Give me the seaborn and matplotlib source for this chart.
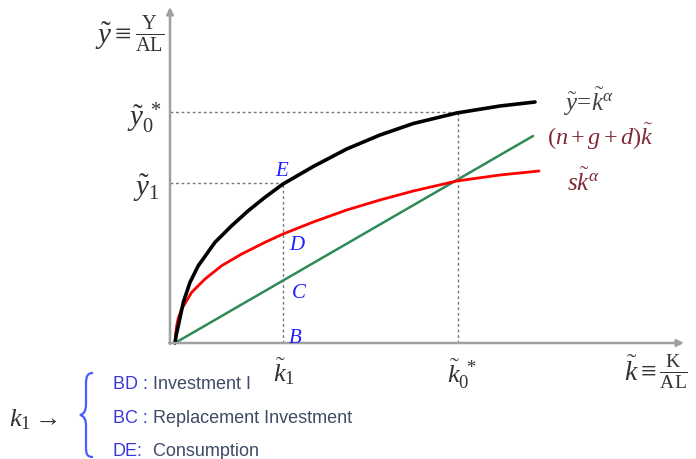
import numpy as np
import pandas as pd
import matplotlib
matplotlib.use("Agg")
import matplotlib.pyplot as plt
import seaborn as sns
from matplotlib.path import Path
from matplotlib.patches import PathPatch

# ---- data (k and y in picture units, origin at the curves' start)
k_output = [0, 1.2, 3.3, 8.3, 15, 23.3, 40, 56.7, 73.3, 90, 108, 138.3, 171.7, 205,
            238.3, 281.7, 325, 360]
y_output = [0, 8, 17.3, 40.7, 60.7, 77.3, 100.7, 117.3, 132.3, 145.7, 159, 176.5, 194,
            208, 219.5, 230, 237, 241]

k_saving = [0, 0.6, 1.7, 3.3, 6.7, 16.7, 30, 46.7, 66.7, 90, 108, 138.3, 171.7, 205,
            238.3, 281.7, 325, 364]
y_saving = [0, 8, 17.3, 25, 34, 50.7, 64, 77.3, 89, 100.7, 109, 121, 133, 143,
            152, 162, 168, 172]

k_break = [0, 358]
y_break = [0, 207]

k1_val = 108       # k~_1
k0_val = 283       # k~_0*
y1_val = 160       # y~_1
y0_val = 231       # y~_0*

bottom_keys = ["BD :", "BC :", "DE:"]
bottom_texts = ["Investment I", "Replacement Investment", " Consumption"]

# ---- style
sns.set_theme(style="white")
plt.rcParams["font.family"] = ["Liberation Serif", "DejaVu Serif"]
plt.rcParams["mathtext.fontset"] = "custom"
plt.rcParams["mathtext.rm"] = "Liberation Serif"
plt.rcParams["mathtext.it"] = "Liberation Serif:italic"
plt.rcParams["mathtext.bf"] = "Liberation Serif:bold"

OX, OY = 175, 344
def P(px, py):
    return (px - OX, OY - py)

fig = plt.figure(figsize=(6.96, 4.6), dpi=100)
ax = fig.add_axes([0, 0, 1, 1])
ax.set_xlim(-OX, 696 - OX)
ax.set_ylim(OY - 460, OY)
ax.axis("off")

# axes with arrows
axis_col = "#a0a0a0"
ax.annotate("", xy=P(170, 8), xytext=P(170, 345),
            arrowprops=dict(arrowstyle="-|>", color=axis_col, lw=1.8, mutation_scale=10,
                            shrinkA=0, shrinkB=0))
ax.annotate("", xy=P(684, 344), xytext=P(169, 344),
            arrowprops=dict(arrowstyle="-|>", color=axis_col, lw=1.8, mutation_scale=10,
                            shrinkA=0, shrinkB=0))

# dotted guides
dot = dict(color="#777777", lw=1.0, linestyle=(0, (2, 2)))
ax.plot([-5, k0_val], [y0_val, y0_val], **dot)
ax.plot([-5, k1_val], [y1_val, y1_val], **dot)
ax.plot([k1_val, k1_val], [0, y1_val], **dot)
ax.plot([k0_val, k0_val], [0, y0_val], **dot)

# curves
sns.lineplot(x=k_break, y=y_break, ax=ax, color="#2e8b57", lw=1.8, sort=False)
sns.lineplot(x=k_saving, y=y_saving, ax=ax, color="#ff0000", lw=2.0, sort=False)
sns.lineplot(x=k_output, y=y_output, ax=ax, color="#000000", lw=2.6, sort=False)

# axis labels
dark = "#333333"
ax.text(*P(130, 34), r"$\tilde{y}\equiv\frac{\mathrm{Y}}{\mathrm{AL}}$", fontsize=21,
        ha="center", va="center", color=dark)
ax.text(*P(162, 118), r"$\tilde{y}_{0}^{\ *}$", fontsize=21, ha="right", va="center", color=dark)
ax.text(*P(160, 188), r"$\tilde{y}_{1}$", fontsize=21, ha="right", va="center", color=dark)
ax.text(*P(284, 372), r"$\tilde{k}_{1}$", fontsize=19, ha="center", va="center", color=dark)
ax.text(*P(462, 374), r"$\tilde{k}_{0}^{\ *}$", fontsize=19, ha="center", va="center", color=dark)
ax.text(*P(656, 372), r"$\tilde{k}\equiv\frac{\mathrm{K}}{\mathrm{AL}}$", fontsize=20,
        ha="center", va="center", color=dark)

# curve labels
ax.text(*P(589, 102), r"$\tilde{y}\!=\!\tilde{k}^{\alpha}$", fontsize=18, ha="center", va="center",
        color="#444444")
ax.text(*P(601, 137), r"$(n+g+d)\tilde{k}$", fontsize=17.5, ha="center", va="center", color="#7f2a35")
ax.text(*P(583, 182), r"$s\tilde{k}^{\alpha}$", fontsize=18, ha="center", va="center", color="#7f2a35")

# points
blue = "#1f1fff"
for lab, px, py in [("E", 282, 172), ("D", 297, 246), ("C", 299, 293), ("B", 295, 339)]:
    ax.text(*P(px, py), lab, fontsize=15, style="italic", ha="center", va="center", color=blue)

# bottom annotation
ax.text(*P(9, 420), r"$k_{1}\rightarrow$", fontsize=19, ha="left", va="center", color=dark)
verts = [P(93, 374), P(87, 374), P(86, 378), P(86, 385), P(86, 405),
         P(86, 412), P(84, 415), P(80, 416), P(84, 417), P(86, 420), P(86, 427),
         P(86, 448), P(86, 455), P(87, 458), P(93, 458)]
codes = [Path.MOVETO, Path.CURVE4, Path.CURVE4, Path.CURVE4, Path.LINETO,
         Path.CURVE4, Path.CURVE4, Path.CURVE4, Path.CURVE4, Path.CURVE4, Path.CURVE4,
         Path.LINETO, Path.CURVE4, Path.CURVE4, Path.CURVE4]
ax.add_patch(PathPatch(Path(verts, codes), fill=False, edgecolor="#4a5cff", lw=1.6))

sans = ["Liberation Sans", "DejaVu Sans"]
for key, txt, py in zip(bottom_keys, bottom_texts, [385, 419, 452]):
    t = ax.text(*P(113, py), key, fontsize=13, family=sans, ha="left", va="center", color="#3a3ad8")
    ax.annotate(" " + txt, xycoords=t, xy=(1, 0.5), va="center", ha="left",
                fontsize=13, family=sans, color="#3f4a66")

fig.savefig("out.png", dpi=100)
